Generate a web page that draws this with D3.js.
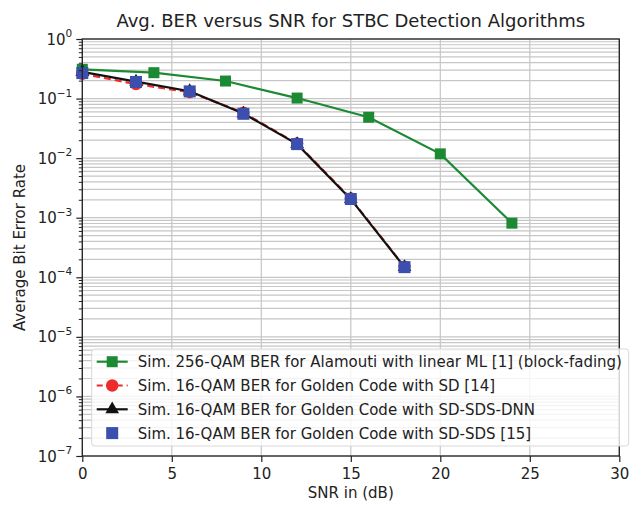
<!DOCTYPE html>
<html>
<head>
<meta charset="utf-8">
<script src="https://cdn.jsdelivr.net/npm/d3@7"></script>
<style>
  body { margin: 0; background: #fff; }
  text { font-family: "DejaVu Sans", sans-serif; fill: #222; }
</style>
</head>
<body>
<div id="chart"></div>
<script>
// Data
const snrAlamouti = [0, 4, 8, 12, 16, 20, 24];
const berAlamouti = [0.31, 0.272, 0.197, 0.102, 0.0486, 0.0118, 0.00081];

const snrGolden = [0, 3, 6, 9, 12, 15, 18];
const berSD = [0.26, 0.175, 0.128, 0.058, 0.0176, 0.0021, 0.00015];
const berDNN = [0.28, 0.192, 0.133, 0.056, 0.0172, 0.00205, 0.000148];
const berSDS = [0.268, 0.19, 0.132, 0.0555, 0.0172, 0.00206, 0.000148];

const xTicks = [0, 5, 10, 15, 20, 25, 30];
const yExponents = [0, -1, -2, -3, -4, -5, -6, -7];

const legendLabels = [
    'Sim. 256-QAM BER for Alamouti with linear ML [1] (block-fading)',
    'Sim. 16-QAM BER for Golden Code with SD [14]',
    'Sim. 16-QAM BER for Golden Code with SD-SDS-DNN',
    'Sim. 16-QAM BER for Golden Code with SD-SDS [15]'
];

const colors = { green: '#1b8a33', red: '#ee2a2a', black: '#111111', blue: '#3b4fae' };

const dimensions = {
    width: 643,
    height: 507,
    margin: { top: 39, right: 23.7, bottom: 51, left: 82.3 }
};
dimensions.containerWidth = dimensions.width - dimensions.margin.left - dimensions.margin.right;
dimensions.containerHeight = dimensions.height - dimensions.margin.top - dimensions.margin.bottom;

// Scales
const xScale = d3.scaleLinear()
    .domain([0, 30])
    .range([0, dimensions.containerWidth]);

const yScale = d3.scaleLog()
    .domain([1e-7, 1])
    .range([dimensions.containerHeight, 0]);

const svg = d3.select('#chart')
    .append('svg')
    .attr('width', dimensions.width)
    .attr('height', dimensions.height);

const container = svg.append('g')
    .attr('transform', `translate(${dimensions.margin.left}, ${dimensions.margin.top})`);

// minor y values (2..9 per decade)
const yMinor = [];
yExponents.forEach(e => {
    if (e === 0) return;
    for (let k = 2; k <= 9; k++) yMinor.push(k * Math.pow(10, e));
});
const yMajor = yExponents.map(e => Math.pow(10, e));

// Grid
const grid = container.append('g');
grid.selectAll('.hgrid')
    .data(yMajor.concat(yMinor))
    .join('line')
    .attr('x1', 0)
    .attr('x2', dimensions.containerWidth)
    .attr('y1', d => yScale(d))
    .attr('y2', d => yScale(d))
    .attr('stroke', '#c6c6c6')
    .attr('stroke-width', 1.2);

grid.selectAll('.vgrid')
    .data(xTicks)
    .join('line')
    .attr('x1', d => xScale(d))
    .attr('x2', d => xScale(d))
    .attr('y1', 0)
    .attr('y2', dimensions.containerHeight)
    .attr('stroke', '#c6c6c6')
    .attr('stroke-width', 1.2);

// Lines
const line = d3.line()
    .x(d => xScale(d[0]))
    .y(d => yScale(d[1]));

const series = [
    { x: snrAlamouti, y: berAlamouti, color: colors.green, dash: null, marker: 'square', size: 11 },
    { x: snrGolden, y: berSD, color: colors.red, dash: '7,4', marker: 'circle', size: 11 },
    { x: snrGolden, y: berDNN, color: colors.black, dash: null, marker: 'triangle', size: 9 },
    { x: snrGolden, y: berSDS, color: colors.blue, dash: null, marker: 'square', size: 12, noLine: true }
];

series.forEach(s => {
    const pts = s.x.map((x, i) => [x, s.y[i]]);
    if (!s.noLine) {
        container.append('path')
            .datum(pts)
            .attr('d', line)
            .attr('fill', 'none')
            .attr('stroke', s.color)
            .attr('stroke-width', 2.2)
            .attr('stroke-dasharray', s.dash);
    }
    drawMarkers(container, pts.map(p => [xScale(p[0]), yScale(p[1])]), s);
});

function drawMarkers(g, coords, s) {
    const sym = s.marker === 'square' ? d3.symbolSquare
        : s.marker === 'circle' ? d3.symbolCircle : d3.symbolTriangle;
    g.selectAll(null)
        .data(coords)
        .join('path')
        .attr('transform', d => `translate(${d[0]}, ${d[1]})`)
        .attr('d', d3.symbol().type(sym).size(s.size * s.size))
        .attr('fill', s.color);
}

// Axes
const xAxis = d3.axisBottom(xScale)
    .tickValues(xTicks)
    .tickSize(6)
    .tickFormat(d => d);

const xAxisGroup = container.append('g')
    .attr('transform', `translate(0, ${dimensions.containerHeight})`)
    .call(xAxis);
xAxisGroup.select('.domain').remove();
xAxisGroup.selectAll('text')
    .attr('font-size', 15)
    .attr('dy', '0.95em')
    .style('font-family', '"DejaVu Sans", sans-serif');
xAxisGroup.selectAll('line').attr('stroke', '#222').attr('stroke-width', 1.2);

const yAxis = d3.axisLeft(yScale)
    .tickValues(yMajor)
    .tickSize(6)
    .tickFormat('');
const yAxisGroup = container.append('g').call(yAxis);
yAxisGroup.select('.domain').remove();
yAxisGroup.selectAll('line').attr('stroke', '#222').attr('stroke-width', 1.2);

const yMinorAxis = d3.axisLeft(yScale)
    .tickValues(yMinor)
    .tickSize(3.5)
    .tickFormat('');
const yMinorGroup = container.append('g').call(yMinorAxis);
yMinorGroup.select('.domain').remove();
yMinorGroup.selectAll('line').attr('stroke', '#222').attr('stroke-width', 1);

// y tick labels as 10^n
const yLabels = container.append('g');
yMajor.forEach((v, i) => {
    const t = yLabels.append('text')
        .attr('x', -10)
        .attr('y', yScale(v) + 5.5)
        .attr('text-anchor', 'end')
        .attr('font-size', 15);
    t.append('tspan').text('10');
    t.append('tspan')
        .attr('dy', -7.5)
        .attr('font-size', 10.5)
        .text(yExponents[i] === 0 ? '0' : '\u2212' + Math.abs(yExponents[i]));
});

// Frame
container.append('rect')
    .attr('x', 0)
    .attr('y', 0)
    .attr('width', dimensions.containerWidth)
    .attr('height', dimensions.containerHeight)
    .attr('fill', 'none')
    .attr('stroke', '#222')
    .attr('stroke-width', 1.3);

// Titles
svg.append('text')
    .attr('x', dimensions.margin.left + dimensions.containerWidth / 2)
    .attr('y', 27)
    .attr('text-anchor', 'middle')
    .attr('font-size', 18)
    .text('Avg. BER versus SNR for STBC Detection Algorithms');

svg.append('text')
    .attr('x', dimensions.margin.left + dimensions.containerWidth / 2)
    .attr('y', 498)
    .attr('text-anchor', 'middle')
    .attr('font-size', 15)
    .text('SNR in (dB)');

svg.append('text')
    .attr('transform', `translate(25, ${dimensions.margin.top + dimensions.containerHeight / 2}) rotate(-90)`)
    .attr('text-anchor', 'middle')
    .attr('font-size', 15)
    .text('Average Bit Error Rate');

// Legend
const legend = svg.append('g').attr('transform', 'translate(91.7, 349)');
legend.append('rect')
    .attr('width', 537)
    .attr('height', 97)
    .attr('rx', 3)
    .attr('fill', 'rgba(255,255,255,0.8)')
    .attr('stroke', '#d8d8d8');

series.forEach((s, i) => {
    const row = legend.append('g').attr('transform', `translate(0, ${12.7 + i * 23.8})`);
    if (!s.noLine) {
        row.append('line')
            .attr('x1', 5)
            .attr('x2', 36)
            .attr('stroke', s.color)
            .attr('stroke-width', 2.2)
            .attr('stroke-dasharray', s.dash ? '6,4' : null);
    }
    drawMarkers(row, [[20.5, 0]], s);
    row.append('text')
        .attr('x', 46)
        .attr('y', 5.5)
        .attr('font-size', 15)
        .text(legendLabels[i]);
});
</script>
</body>
</html>
